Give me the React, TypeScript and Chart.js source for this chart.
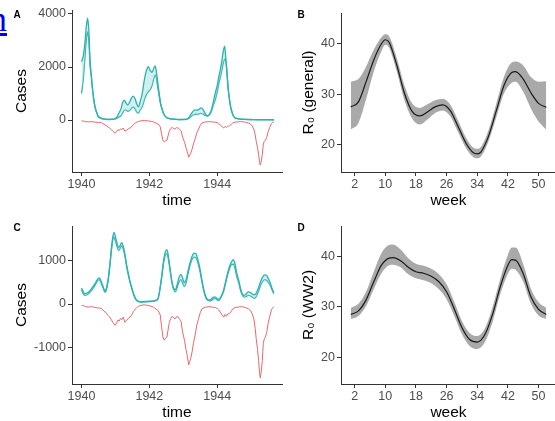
import React, { useEffect, useRef } from 'react';
import { Chart, registerables } from 'chart.js';

Chart.register(...registerables);

// ---------- tick labels ----------
const yearTicks = [1940, 1942, 1944];
const casesTicksA = [0, 2000, 4000];
const casesTicksC = [-1000, 0, 1000];
const weekTicks = [2, 10, 18, 26, 34, 42, 50];
const r0Ticks = [20, 30, 40];

// ---------- observed cases (drawn downward, red) ----------
const obsYear = [
  1940.0, 1940.06, 1940.12, 1940.2, 1940.3, 1940.4, 1940.5, 1940.59, 1940.66, 1940.72,
  1940.78, 1940.83, 1940.88, 1940.93, 1940.99, 1941.03, 1941.07, 1941.11, 1941.15, 1941.19,
  1941.23, 1941.28, 1941.33, 1941.38, 1941.43, 1941.48, 1941.53, 1941.58, 1941.63, 1941.68,
  1941.75, 1941.85, 1941.95, 1942.05, 1942.12, 1942.2, 1942.26, 1942.32, 1942.36, 1942.4,
  1942.44, 1942.48, 1942.52, 1942.55, 1942.59, 1942.63, 1942.67, 1942.72, 1942.76, 1942.8,
  1942.85, 1942.9, 1942.94, 1942.97, 1943.0, 1943.04, 1943.08, 1943.12, 1943.16, 1943.19,
  1943.22, 1943.26, 1943.3, 1943.35, 1943.4, 1943.45, 1943.5, 1943.55, 1943.64, 1943.75,
  1943.85, 1943.94, 1944.0, 1944.04, 1944.1, 1944.15, 1944.19, 1944.23, 1944.27, 1944.31,
  1944.36, 1944.41, 1944.46, 1944.53, 1944.62, 1944.72, 1944.83, 1944.92, 1944.98, 1945.03,
  1945.08, 1945.12, 1945.15, 1945.19, 1945.22, 1945.25, 1945.27, 1945.3, 1945.33, 1945.36,
  1945.39, 1945.42, 1945.46, 1945.5, 1945.55, 1945.6, 1945.64, 1945.67,
];
const obsCases = [
  30, 40, 60, 70, 60, 80, 90, 100, 160, 200,
  260, 300, 360, 430, 490, 440, 370, 390, 330, 360,
  300, 420, 380, 330, 300, 250, 170, 120, 80, 50,
  30, 20, 30, 50, 70, 120, 150, 250, 520, 760,
  830, 780, 760, 600, 420, 330, 280, 320, 340, 290,
  300, 360, 410, 600, 710, 850, 1050, 1200, 1400, 1320,
  1250, 1100, 900, 710, 480, 340, 200, 110, 75, 60,
  70, 80, 100, 130, 200, 260, 300, 240, 280, 230,
  220, 170, 110, 80, 70, 60, 80, 110, 150, 220,
  340, 560, 800, 1050, 1300, 1600, 1700, 1550, 1300, 900,
  800, 760, 650, 450, 280, 130, 80, 70,
];

// ---------- simulated cases, general model (panel A) ----------
const simAYear = [
  1940.0, 1940.05, 1940.1, 1940.14, 1940.18, 1940.22, 1940.25, 1940.29, 1940.32, 1940.36,
  1940.4, 1940.45, 1940.49, 1940.55, 1940.62, 1940.7, 1940.8, 1940.9, 1941.0, 1941.06,
  1941.12, 1941.17, 1941.21, 1941.26, 1941.31, 1941.36, 1941.41, 1941.46, 1941.52, 1941.58,
  1941.63, 1941.68, 1941.73, 1941.79, 1941.85, 1941.91, 1941.97, 1942.03, 1942.08, 1942.13,
  1942.17, 1942.21, 1942.25, 1942.29, 1942.33, 1942.37, 1942.42, 1942.48, 1942.56, 1942.66,
  1942.76, 1942.9, 1943.05, 1943.15, 1943.22, 1943.28, 1943.34, 1943.4, 1943.46, 1943.52,
  1943.58, 1943.64, 1943.7, 1943.75, 1943.82, 1943.88, 1943.94, 1944.0, 1944.05, 1944.1,
  1944.14, 1944.18, 1944.22, 1944.25, 1944.29, 1944.32, 1944.36, 1944.4, 1944.45, 1944.5,
  1944.58, 1944.7, 1944.85, 1945.0, 1945.2, 1945.4, 1945.67,
];
const simAUpper = [
  2200, 2400, 2900, 3500, 3840, 3300, 2300, 1700, 1250, 800,
  500, 280, 150, 90, 50, 35, 25, 30, 60, 150,
  300, 450, 650, 750, 650, 570, 650, 800, 900, 800,
  600, 500, 700, 1000, 1500, 1850, 2010, 1850, 1800, 1950,
  2040, 1800, 1400, 1000, 650, 450, 250, 130, 70, 40,
  30, 20, 25, 80, 200, 320, 380, 370, 400, 460,
  400, 260, 170, 180, 350, 650, 1000, 1300, 1650, 1950,
  2260, 2600, 2790, 2400, 1800, 1260, 800, 480, 250, 120,
  60, 35, 25, 20, 15, 15, 10,
];
const simALower = [
  1000, 1500, 2300, 3000, 3330, 2900, 2100, 1600, 1200, 780,
  480, 270, 140, 80, 45, 30, 20, 25, 40, 80,
  130, 170, 260, 370, 380, 330, 350, 420, 500, 420,
  300, 260, 380, 500, 750, 950, 1070, 1150, 1300, 1550,
  1700, 1550, 1200, 900, 600, 420, 230, 120, 60, 35,
  25, 15, 20, 50, 120, 180, 210, 220, 230, 250,
  230, 180, 150, 170, 300, 550, 750, 1050, 1380, 1650,
  1890, 2150, 2300, 2250, 1700, 1200, 780, 470, 240, 110,
  55, 30, 20, 15, 10, 10, 5,
];

// ---------- simulated cases, WW2 model (panel C) ----------
const simCYear = [
  1940.0, 1940.05, 1940.1, 1940.18, 1940.26, 1940.35, 1940.42, 1940.49, 1940.53, 1940.58,
  1940.64, 1940.69, 1940.74, 1940.79, 1940.84, 1940.89, 1940.93, 1940.96, 1941.0, 1941.05,
  1941.09, 1941.14, 1941.18, 1941.23, 1941.28, 1941.33, 1941.38, 1941.43, 1941.48, 1941.53,
  1941.58, 1941.63, 1941.7, 1941.8, 1941.9, 1942.0, 1942.1, 1942.2, 1942.26, 1942.31,
  1942.37, 1942.42, 1942.47, 1942.52, 1942.57, 1942.62, 1942.67, 1942.72, 1942.77, 1942.82,
  1942.88, 1942.93, 1942.98, 1943.03, 1943.08, 1943.14, 1943.2, 1943.26, 1943.32, 1943.37,
  1943.43, 1943.49, 1943.55, 1943.6, 1943.65, 1943.7, 1943.76, 1943.82, 1943.89, 1943.95,
  1944.01, 1944.07, 1944.13, 1944.19, 1944.25, 1944.31, 1944.37, 1944.43, 1944.48, 1944.53,
  1944.58, 1944.63, 1944.68, 1944.73, 1944.79, 1944.85, 1944.91, 1944.97, 1945.03, 1945.09,
  1945.15, 1945.22, 1945.28, 1945.34, 1945.4, 1945.45, 1945.51, 1945.57, 1945.62, 1945.67,
];
const simCUpper = [
  370, 280, 240, 260, 320, 410, 500, 590, 600, 520,
  400, 300, 380, 600, 950, 1350, 1580, 1650, 1550, 1400,
  1300, 1350, 1410, 1330, 1150, 900, 700, 520, 380, 250,
  150, 90, 60, 55, 60, 65, 70, 90, 140, 350,
  680, 1000, 1200, 1250, 1050, 760, 500, 360, 330, 450,
  620, 680, 600, 490, 550, 760, 950, 1100, 1170, 1160,
  1020, 820, 550, 350, 200, 120, 90, 110, 160, 160,
  110, 120, 200, 320, 520, 720, 880, 980, 1020, 900,
  700, 560, 380, 250, 200, 230, 280, 270, 230, 210,
  250, 380, 520, 620, 670, 660, 580, 470, 350, 260,
];
const simCLower = [
  330, 240, 200, 220, 280, 370, 460, 550, 560, 480,
  360, 270, 350, 560, 900, 1280, 1500, 1540, 1450, 1320,
  1230, 1280, 1340, 1270, 1100, 860, 670, 500, 360, 230,
  130, 75, 50, 45, 50, 55, 60, 80, 125, 320,
  640, 950, 1120, 1160, 990, 720, 470, 330, 280, 380,
  520, 560, 480, 400, 480, 700, 890, 1030, 1080, 1070,
  950, 760, 510, 320, 180, 100, 75, 80, 120, 125,
  85, 100, 180, 300, 490, 680, 830, 910, 920, 800,
  620, 500, 340, 220, 160, 170, 200, 190, 160, 130,
  170, 300, 430, 520, 560, 550, 490, 420, 320, 240,
];

// ---------- seasonal R0, general (panel B) ----------
const weeksB = [1, 3, 5, 7, 9, 10, 11, 13, 15, 17, 19, 21, 23, 25, 27, 29, 31, 33, 34, 35, 37, 39, 41, 43, 44, 46, 48, 50, 52];
const r0GenMean = [27.5, 28.5, 32.5, 36.8, 40.0, 40.8, 40.3, 35.8, 30.2, 26.6, 25.7, 26.5, 27.5, 27.9, 26.7, 23.6, 20.4, 18.4, 18.2, 18.6, 21.8, 26.8, 31.8, 34.3, 34.5, 33.0, 30.3, 28.2, 27.4];
const r0GenLow = [23.0, 24.3, 29.0, 34.5, 38.5, 39.8, 39.2, 34.5, 28.8, 25.2, 24.0, 25.0, 26.3, 26.8, 25.6, 22.5, 19.4, 17.5, 17.3, 17.7, 20.8, 25.5, 30.2, 32.3, 32.5, 30.5, 27.2, 24.6, 23.0];
const r0GenHigh = [32.5, 33.0, 35.5, 38.8, 41.3, 41.9, 41.5, 37.2, 31.8, 28.2, 27.3, 28.0, 28.8, 29.1, 27.9, 24.8, 21.5, 19.4, 19.2, 19.6, 23.0, 28.2, 33.5, 36.3, 36.5, 35.7, 33.4, 32.5, 32.6];

// ---------- seasonal R0, WW2 (panel D) ----------
const weeksD = [1, 3, 5, 7, 9, 11, 12, 14, 16, 18, 20, 22, 24, 26, 28, 30, 32, 34, 36, 38, 40, 42, 43, 44, 46, 48, 50, 52];
const r0WarMean = [28.5, 29.2, 31.4, 35.0, 38.3, 39.7, 39.8, 39.2, 37.9, 37.0, 36.7, 36.1, 35.0, 33.0, 29.6, 25.9, 23.5, 23.0, 24.5, 28.5, 34.0, 38.3, 39.4, 39.3, 36.6, 32.0, 29.5, 28.5];
const r0WarLow = [27.6, 28.2, 30.2, 33.5, 36.7, 38.3, 38.4, 37.9, 36.5, 35.7, 35.3, 34.7, 33.5, 31.5, 28.2, 24.6, 22.2, 21.6, 23.0, 27.0, 32.5, 36.6, 37.6, 37.4, 35.0, 30.6, 28.3, 27.6];
const r0WarHigh = [29.8, 30.6, 33.0, 37.0, 40.7, 42.3, 42.4, 41.4, 39.7, 38.6, 38.2, 37.6, 36.5, 34.5, 31.0, 27.2, 24.8, 24.2, 25.7, 30.0, 35.6, 40.4, 41.8, 41.8, 38.5, 33.6, 30.9, 29.8];

// ---------- styling ----------
const FONT = '"Liberation Sans", Arial, Helvetica, sans-serif';
const AXIS = '#333333';
const TICK = '#4d4d4d';
const TEAL = '#2cb3ae';
const TEAL_FILL = 'rgba(150, 222, 222, 0.45)';
const RED = '#e8686c';
const GREY = '#a9a9a9';

Chart.defaults.font.family = FONT;

const pts = (xs: number[], ys: number[], sign = 1) => xs.map((x, i) => ({ x, y: ys[i] * sign }));

const panelLabelPlugin = {
  id: 'panelLabel',
  afterDraw(chart: any, _args: any, opts: any) {
    const ctx = chart.ctx;
    ctx.save();
    ctx.font = `bold 10px ${FONT}`;
    ctx.fillStyle = '#000';
    ctx.textAlign = 'center';
    ctx.textBaseline = 'middle';
    ctx.fillText(opts.text, opts.x, opts.y);
    ctx.restore();
  },
};

type PanelSpec = {
  xMin: number; xMax: number; yMin: number; yMax: number;
  xTicks: number[]; yTicks: number[];
  xTitle: string; yTitle: string; yTitlePad: number;
  padTop: number; padRight: number; yWidth: number; xHeight: number;
  label: string; labelX: number; labelY: number;
};

function makeOptions(p: PanelSpec): any {
  const tickFont = { family: FONT, size: 12.5 };
  const titleFont = { family: FONT, size: 15.5, lineHeight: 1.2 };
  const grid = { display: true, drawOnChartArea: false, drawTicks: true, tickLength: 4, tickColor: AXIS, tickWidth: 1, color: AXIS };
  const border = { display: true, color: AXIS, width: 1 };
  return {
    animation: false,
    responsive: false,
    maintainAspectRatio: false,
    devicePixelRatio: 1,
    events: [],
    layout: { padding: { left: 0, top: p.padTop, right: p.padRight, bottom: 0 } },
    plugins: {
      legend: { display: false },
      tooltip: { enabled: false },
      panelLabel: { text: p.label, x: p.labelX, y: p.labelY },
    },
    elements: { point: { radius: 0 } },
    scales: {
      x: {
        type: 'linear',
        min: p.xMin,
        max: p.xMax,
        afterBuildTicks: (s: any) => { s.ticks = p.xTicks.map((v) => ({ value: v })); },
        afterFit: (s: any) => { s.height = p.xHeight; },
        grid,
        border,
        ticks: { color: TICK, font: tickFont, padding: 1, maxRotation: 0, autoSkip: false, callback: (v: any) => String(v) },
        title: { display: true, text: p.xTitle, color: '#000', font: titleFont, padding: { top: 0, bottom: 0 } },
      },
      y: {
        type: 'linear',
        min: p.yMin,
        max: p.yMax,
        afterBuildTicks: (s: any) => { s.ticks = p.yTicks.map((v) => ({ value: v })); },
        afterFit: (s: any) => { s.width = p.yWidth; },
        grid,
        border,
        ticks: { color: TICK, font: tickFont, padding: 2, autoSkip: false, callback: (v: any) => String(v) },
        title: { display: true, text: p.yTitle, color: '#000', font: titleFont, padding: { top: p.yTitlePad, bottom: 0 } },
      },
    },
  };
}

function casesDatasets(year: number[], upper: number[], lower: number[]) {
  return [
    { data: pts(year, upper), order: 1, borderColor: TEAL, borderWidth: 1.3, backgroundColor: TEAL_FILL, fill: '+1', cubicInterpolationMode: 'monotone', pointRadius: 0 },
    { data: pts(year, lower), order: 1, borderColor: TEAL, borderWidth: 1.3, fill: false, cubicInterpolationMode: 'monotone', pointRadius: 0 },
    { data: pts(obsYear, obsCases, -1), order: 0, borderColor: RED, borderWidth: 1, fill: false, tension: 0, pointRadius: 0 },
  ];
}

function r0Datasets(weeks: number[], mean: number[], low: number[], high: number[]) {
  return [
    { data: pts(weeks, high), order: 3, borderWidth: 0, borderColor: 'rgba(0,0,0,0)', backgroundColor: GREY, fill: '+1', cubicInterpolationMode: 'monotone', pointRadius: 0 },
    { data: pts(weeks, low), order: 2, borderWidth: 0, borderColor: 'rgba(0,0,0,0)', fill: false, cubicInterpolationMode: 'monotone', pointRadius: 0 },
    { data: pts(weeks, mean), order: 0, borderColor: '#1a1a1a', borderWidth: 1.2, fill: false, cubicInterpolationMode: 'monotone', pointRadius: 0 },
  ];
}

type PanelProps = { left: number; top: number; width: number; height: number; build: () => any };

function Panel({ left, top, width, height, build }: PanelProps) {
  const ref = useRef<HTMLCanvasElement>(null);
  useEffect(() => {
    const chart = new Chart(ref.current as HTMLCanvasElement, build());
    return () => chart.destroy();
  }, []);
  return (
    <canvas
      ref={ref}
      width={width}
      height={height}
      style={{ position: 'absolute', left, top, width, height }}
    />
  );
}

const yearMin = 1939.72;
const yearMax = 1945.91;
const weekMin = -1.55;
const weekMax = 54.55;

export default function App() {
  const buildA = () => ({
    type: 'line',
    data: { datasets: casesDatasets(simAYear, simAUpper, simALower) },
    options: makeOptions({
      xMin: yearMin, xMax: yearMax, yMin: -1960, yMax: 4150,
      xTicks: yearTicks, yTicks: casesTicksA,
      xTitle: 'time', yTitle: 'Cases', yTitlePad: 12,
      padTop: 10, padRight: 2, yWidth: 72, xHeight: 38,
      label: 'A', labelX: 17, labelY: 15,
    }),
    plugins: [panelLabelPlugin],
  });
  const buildB = () => ({
    type: 'line',
    data: { datasets: r0Datasets(weeksB, r0GenMean, r0GenLow, r0GenHigh) },
    options: makeOptions({
      xMin: weekMin, xMax: weekMax, yMin: 14.6, yMax: 46.1,
      xTicks: weekTicks, yTicks: r0Ticks,
      xTitle: 'week', yTitle: 'R₀ (general)', yTitlePad: 19,
      padTop: 13, padRight: 2, yWidth: 61, xHeight: 38,
      label: 'B', labelX: 21, labelY: 15,
    }),
    plugins: [panelLabelPlugin],
  });
  const buildC = () => ({
    type: 'line',
    data: { datasets: casesDatasets(simCYear, simCUpper, simCLower) },
    options: makeOptions({
      xMin: yearMin, xMax: yearMax, yMin: -1840, yMax: 1795,
      xTicks: yearTicks, yTicks: casesTicksC,
      xTitle: 'time', yTitle: 'Cases', yTitlePad: 12,
      padTop: 14, padRight: 2, yWidth: 72, xHeight: 38,
      label: 'C', labelX: 17, labelY: 16,
    }),
    plugins: [panelLabelPlugin],
  });
  const buildD = () => ({
    type: 'line',
    data: { datasets: r0Datasets(weeksD, r0WarMean, r0WarLow, r0WarHigh) },
    options: makeOptions({
      xMin: weekMin, xMax: weekMax, yMin: 14.65, yMax: 46.1,
      xTicks: weekTicks, yTicks: r0Ticks,
      xTitle: 'week', yTitle: 'R₀ (WW2)', yTitlePad: 19,
      padTop: 14, padRight: 2, yWidth: 61, xHeight: 38,
      label: 'D', labelX: 21, labelY: 16,
    }),
    plugins: [panelLabelPlugin],
  });

  return (
    <div style={{ position: 'fixed', left: 0, top: 0, width: 555, height: 421, overflow: 'hidden', background: '#fff' }}>
      <span
        style={{
          position: 'absolute', left: -11, top: 1, fontFamily: '"Liberation Serif", serif', fontSize: 36,
          lineHeight: 1, color: '#0000ee', textDecoration: 'underline',
        }}
      >
        n
      </span>
      <Panel left={0} top={0} width={284} height={210} build={buildA} />
      <Panel left={280} top={0} width={278} height={210} build={buildB} />
      <Panel left={0} top={212} width={284} height={210} build={buildC} />
      <Panel left={280} top={212} width={278} height={210} build={buildD} />
    </div>
  );
}
